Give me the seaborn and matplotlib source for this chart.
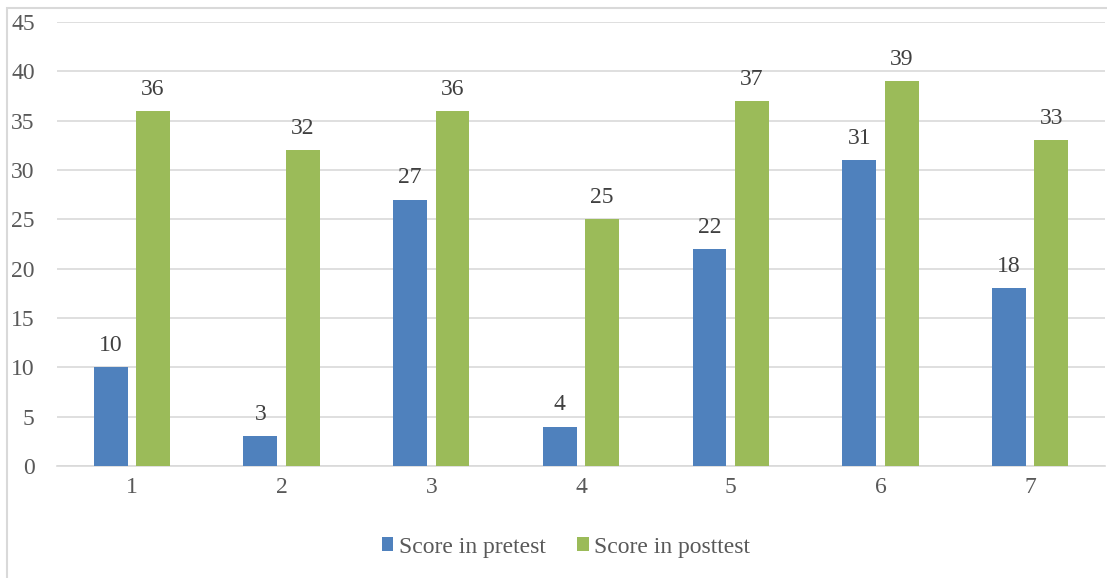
import matplotlib
matplotlib.use("Agg")
import matplotlib.pyplot as plt
import seaborn as sns
import pandas as pd
from matplotlib.patches import Rectangle

categories = ["1", "2", "3", "4", "5", "6", "7"]
pretest = [10, 3, 27, 4, 22, 31, 18]
posttest = [36, 32, 36, 25, 37, 39, 33]
series_names = ["Score in pretest", "Score in posttest"]
y_ticks = [0, 5, 10, 15, 20, 25, 30, 35, 40, 45]

df = pd.DataFrame({
    "cat": categories * 2,
    "value": pretest + posttest,
    "series": [series_names[0]] * len(categories) + [series_names[1]] * len(categories),
})

sns.set_theme(style="white")
plt.rcParams["font.family"] = ["Liberation Serif", "DejaVu Serif"]

FS = 17
W, H = 1107, 578
fig = plt.figure(figsize=(W / 100, H / 100), dpi=100)
ax = fig.add_axes([57 / W, 1 - 466 / H, (1105 - 57) / W, (466 - 22) / H])

# outer frame (top and left edges visible)
fig.patches.append(Rectangle((7 / W, -0.1), 1.2, 1 - 8 / H + 0.1, transform=fig.transFigure,
                             fill=False, edgecolor="#D9D9D9", linewidth=1.5, zorder=0))

palette = ["#4F81BD", "#9BBB59"]
sns.barplot(data=df, x="cat", y="value", hue="series", palette=palette,
            width=0.567, gap=0.2, saturation=1, linewidth=0, ax=ax, legend=True, zorder=3)

ax.set_ylim(0, 45)
ax.set_xlim(-0.5, 6.5)
ax.set_yticks(y_ticks)
ax.yaxis.grid(True, color="#D9D9D9", linewidth=1.2, zorder=0)
ax.set_axisbelow(True)
for s in ["top", "right", "left"]:
    ax.spines[s].set_visible(False)
ax.spines["bottom"].set_color("#D9D9D9")
ax.spines["bottom"].set_linewidth(1.2)
ax.tick_params(axis="both", length=0, labelsize=FS, colors="#595959")
ax.tick_params(axis="y", pad=16)
ax.tick_params(axis="x", pad=8)
ax.set_xlabel("")
ax.set_ylabel("")

for cont in ax.containers:
    for bar in cont:
        h = bar.get_height()
        ax.annotate(f"{int(h)}", (bar.get_x() + bar.get_width() / 2, h),
                    xytext=(0, 8), textcoords="offset points",
                    ha="center", va="bottom", fontsize=FS, color="#404040")

leg = ax.get_legend()
handles = leg.legend_handles
leg.remove()
fig.legend(handles, series_names, loc="center", bbox_to_anchor=(566 / W, 1 - 547 / H),
           ncol=2, frameon=False, fontsize=FS, labelcolor="#595959",
           handlelength=0.5, handleheight=0.5, handletextpad=0.25, columnspacing=1.3)

fig.savefig("out.png", dpi=100)
